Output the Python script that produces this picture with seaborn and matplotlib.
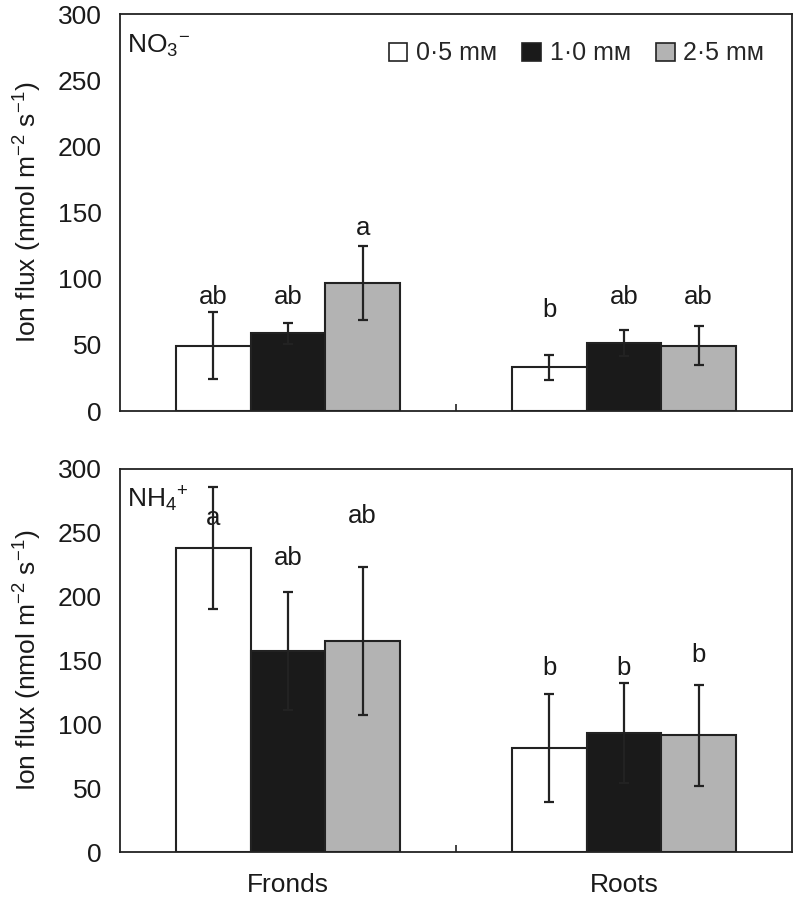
import numpy as np
import pandas as pd
import matplotlib
matplotlib.use("Agg")
import matplotlib.pyplot as plt
from matplotlib.container import BarContainer
import seaborn as sns

# ---- data ----
parts = ["Fronds", "Roots"]
conc_labels = ["0·5 mᴍ", "1·0 mᴍ", "2·5 mᴍ"]

no3_fronds = [49.5, 58.7, 96.7]
no3_fronds_err = [25.0, 8.0, 28.0]
no3_roots = [33.0, 51.5, 49.4]
no3_roots_err = [9.7, 10.0, 14.7]

nh4_fronds = [238.0, 157.5, 165.5]
nh4_fronds_err = [48.0, 46.5, 58.0]
nh4_roots = [81.5, 93.0, 91.5]
nh4_roots_err = [42.0, 39.0, 39.5]

no3_letters_fronds = ["ab", "ab", "a"]
no3_letters_roots = ["b", "ab", "ab"]
nh4_letters_fronds = ["a", "ab", "ab"]
nh4_letters_roots = ["b", "b", "b"]

# letter label heights (data units)
no3_letter_y_fronds = [86, 86, 138]
no3_letter_y_roots = [76, 86, 86]
nh4_letter_y_fronds = [262, 230, 263]
nh4_letter_y_roots = [144, 144, 154]

colors = ["#ffffff", "#1a1a1a", "#b3b3b3"]

sns.set_theme(style="white")
plt.rcParams["font.family"] = ["Liberation Sans", "DejaVu Sans"]
plt.rcParams["mathtext.fontset"] = "custom"
plt.rcParams["mathtext.rm"] = "Liberation Sans"
plt.rcParams["mathtext.it"] = "Liberation Sans:italic"
plt.rcParams["mathtext.bf"] = "Liberation Sans:bold"

fig = plt.figure(figsize=(7.94, 9.0), dpi=100)
ax1 = fig.add_axes([0.1511, 0.5433, 0.8464, 0.4411])
ax2 = fig.add_axes([0.1511, 0.0533, 0.8464, 0.4256])

FS = 19
EDGE = "#222222"


def make_df(fr, fr_err, ro, ro_err):
    rows = []
    for i, c in enumerate(conc_labels):
        rows.append(dict(part=parts[0], conc=c, flux=fr[i], err=fr_err[i]))
        rows.append(dict(part=parts[1], conc=c, flux=ro[i], err=ro_err[i]))
    return pd.DataFrame(rows)


def draw(ax, df, letters_f, letters_r, ly_f, ly_r, ion_label, show_legend, show_xlabels):
    sns.barplot(data=df, x="part", y="flux", hue="conc", order=parts,
                hue_order=conc_labels, palette=colors, edgecolor=EDGE,
                linewidth=1.5, width=0.667, errorbar=None, ax=ax,
                legend=show_legend, saturation=1)
    bar_conts = [c for c in ax.containers if isinstance(c, BarContainer)]
    for ci, cont in enumerate(bar_conts):
        for pi, patch in enumerate(cont.patches):
            xc = patch.get_x() + patch.get_width() / 2
            sub = df[(df.part == parts[pi]) & (df.conc == conc_labels[ci])].iloc[0]
            ax.errorbar(xc, sub.flux, yerr=sub.err, fmt="none", ecolor="#222222",
                        elinewidth=1.6, capsize=3.5, capthick=1.6, zorder=5)
            lab = (letters_f if pi == 0 else letters_r)[ci]
            ly = (ly_f if pi == 0 else ly_r)[ci]
            ax.text(xc, ly, lab, ha="center", va="center", fontsize=FS - 0.5,
                    color="#1a1a1a")
    ax.set_xlim(-0.5, 1.5)
    ax.set_ylim(0, 300)
    ax.set_yticks([0, 50, 100, 150, 200, 250, 300])
    ax.tick_params(axis="y", length=0, pad=13, labelsize=FS, colors="#1a1a1a")
    ax.set_xticks([0, 1])
    ax.set_xticks([0.5], minor=True)
    ax.tick_params(axis="x", which="major", length=0, pad=15, labelsize=FS, colors="#1a1a1a")
    ax.tick_params(axis="x", which="minor", direction="in", length=5, width=1.2,
                   color="#222222", bottom=True)
    if not show_xlabels:
        ax.set_xticklabels([])
    ax.set_xlabel("")
    ax.set_ylabel("Ion flux (nmol m$^{\u22122}$ s$^{\u22121}$)", fontsize=FS,
                  color="#1a1a1a", labelpad=10)
    for s in ax.spines.values():
        s.set_visible(True)
        s.set_color("#222222")
        s.set_linewidth(1.3)
    ax.text(0.01, 0.92, ion_label, transform=ax.transAxes, fontsize=FS,
            ha="left", va="center", color="#1a1a1a")


draw(ax1, make_df(no3_fronds, no3_fronds_err, no3_roots, no3_roots_err),
     no3_letters_fronds, no3_letters_roots, no3_letter_y_fronds, no3_letter_y_roots,
     "NO$_3$$^{\u2212}$", True, False)
draw(ax2, make_df(nh4_fronds, nh4_fronds_err, nh4_roots, nh4_roots_err),
     nh4_letters_fronds, nh4_letters_roots, nh4_letter_y_fronds, nh4_letter_y_roots,
     "NH$_4$$^{+}$", False, True)

leg = ax1.get_legend()
handles = leg.legend_handles
for h in handles:
    h.set_edgecolor(EDGE)
    h.set_linewidth(1.2)
ax1.legend(handles=handles, labels=conc_labels, loc="upper right", ncol=3,
           frameon=False, fontsize=FS - 1, handlelength=0.75, handleheight=0.75,
           handletextpad=0.35, columnspacing=1.0, bbox_to_anchor=(0.985, 0.975),
           borderaxespad=0.3)

fig.savefig("out.png", dpi=100)
